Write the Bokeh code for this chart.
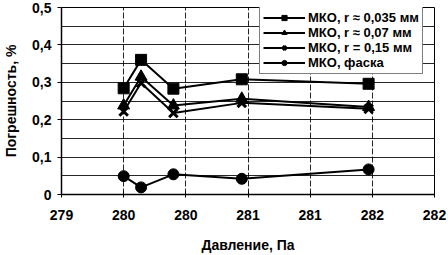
from bokeh.plotting import figure
from bokeh.models import Range1d, FixedTicker, Legend, LegendItem
from bokeh.embed import file_html
from bokeh.resources import INLINE

# data
pressure = [279.90, 280.04, 280.30, 280.85, 281.87]
err_r0035 = [0.284, 0.360, 0.283, 0.308, 0.296]
err_r007 = [0.238, 0.315, 0.238, 0.256, 0.234]
err_r015 = [0.222, 0.298, 0.218, 0.245, 0.229]
err_chamfer = [0.049, 0.019, 0.054, 0.042, 0.067]
labels = ["МКО, r ≈ 0,035 мм", "МКО, r ≈ 0,07 мм", "МКО, r = 0,15 мм", "МКО, фаска"]
x_ticks = [279.4, 279.9, 280.4, 280.9, 281.4, 281.9, 282.4]
x_tick_labels = ["279", "280", "280", "281", "281", "282", "282"]
y_ticks = [0, 0.1, 0.2, 0.3, 0.4, 0.5]
y_tick_labels = ["0", "0,1", "0,2", "0,3", "0,4", "0,5"]
y_grid = [0, 0.05, 0.1, 0.15, 0.2, 0.25, 0.3, 0.35, 0.4, 0.45, 0.5]

FONT = "Liberation Sans"

p = figure(width=448, height=255, output_backend="svg", toolbar_location=None,
           x_range=Range1d(279.4, 282.4), y_range=Range1d(0, 0.5),
           min_border_left=58, min_border_right=14, min_border_top=7, min_border_bottom=60)
p.background_fill_color = "white"
p.border_fill_color = "white"
p.outline_line_color = "black"
p.outline_line_width = 1

p.xaxis.ticker = FixedTicker(ticks=x_ticks)
p.xaxis.major_label_overrides = dict(zip(x_ticks, x_tick_labels))
p.yaxis.ticker = FixedTicker(ticks=y_ticks)
p.yaxis.major_label_overrides = dict(zip(y_ticks, y_tick_labels))
p.xgrid.ticker = FixedTicker(ticks=x_ticks)
p.ygrid.ticker = FixedTicker(ticks=y_grid)
for g in (p.xgrid, p.ygrid):
    g.grid_line_color = "black"
    g.grid_line_width = 1
    g.grid_line_alpha = 0.85
p.xgrid.grid_line_dash = "6 2"

for ax in (p.xaxis, p.yaxis):
    ax.axis_line_color = "black"
    ax.axis_line_width = 1.5
    ax.major_tick_line_color = "black"
    ax.minor_tick_line_color = None
    ax.major_label_text_font = FONT
    ax.major_label_text_font_size = "14px"
    ax.major_label_text_font_style = "bold"
    ax.major_label_text_color = "black"
    ax.axis_label_text_font = FONT
    ax.axis_label_text_font_size = "14px"
    ax.axis_label_text_font_style = "bold"
    ax.axis_label_text_color = "black"
p.xaxis.major_tick_in = 3
p.xaxis.major_tick_out = 3
p.xaxis.major_label_standoff = 12
p.xaxis.axis_label = "Давление, Па"
p.xaxis.axis_label_standoff = 14
p.yaxis.major_tick_in = 0
p.yaxis.major_tick_out = 4
p.yaxis.major_label_standoff = 6
p.yaxis.axis_label = "Погрешность, %"
p.yaxis.axis_label_standoff = 10

items = []
series = [err_r0035, err_r007, err_r015, err_chamfer]
for lbl, ys, mk, size in zip(labels, series, ["square", "triangle", "x", "circle"], [11, 12, 12, 11]):
    lr = p.line(pressure, ys, line_color="black", line_width=2)
    mr = p.scatter(pressure, ys, marker=mk, size=size, fill_color="black",
                   line_color="black", line_width=3 if mk == "x" else 1)
    items.append(LegendItem(label=lbl, renderers=[lr, mr]))

legend = Legend(items=items, location=(198, 120))
legend.label_text_font = FONT
legend.label_text_font_size = "13px"
legend.label_text_font_style = "bold"
legend.label_text_color = "black"
legend.label_height = 13
legend.glyph_height = 13
legend.glyph_width = 42
legend.label_standoff = 3
legend.spacing = 0
legend.padding = 3
legend.margin = 0
legend.border_line_color = "black"
legend.border_line_width = 1
legend.background_fill_color = "white"
legend.background_fill_alpha = 1
p.add_layout(legend, "center")

open("out.html", "w").write(file_html(p, INLINE))
